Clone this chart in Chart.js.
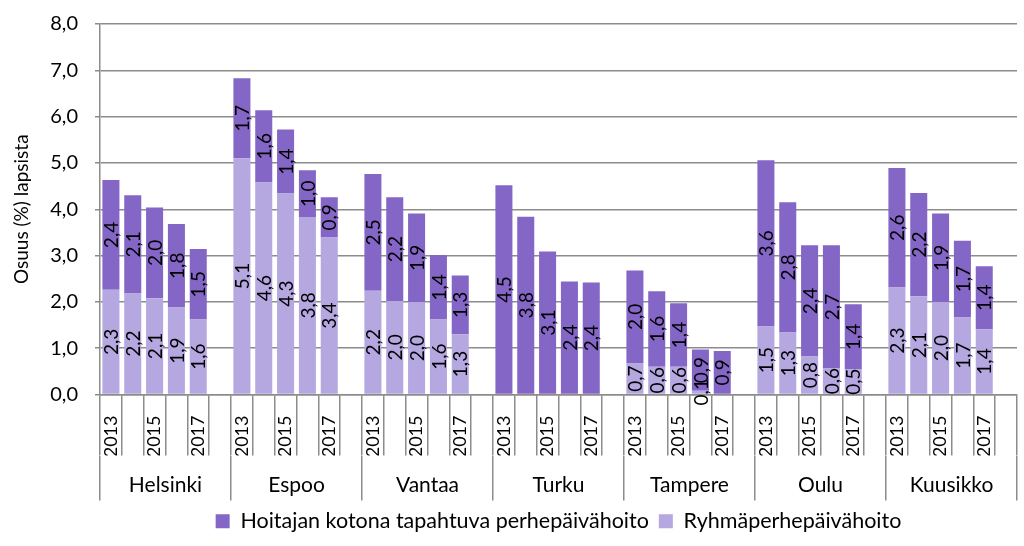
<!DOCTYPE html>
<html><head><meta charset="utf-8">
<script src="https://cdn.jsdelivr.net/npm/chart.js@4.4.1/dist/chart.umd.min.js"></script>
<style>html,body{margin:0;padding:0;background:#fff}#wrap{width:1024px;height:546px;position:relative}</style>
</head><body><div id="wrap"><canvas id="c" width="1024" height="546"></canvas></div>
<script>
const cities = ['Helsinki','Espoo','Vantaa','Turku','Tampere','Oulu','Kuusikko'];
const years = ['2013','2014','2015','2016','2017'];
const shownYears = ['2013','2015','2017'];
const seriesNames = ['Hoitajan kotona tapahtuva perhepäivähoito','Ryhmäperhepäivähoito'];
// Ryhmäperhepäivähoito (light), 5 years per city
const ryhma = [
  2.26,2.18,2.08,1.88,1.62,
  5.10,4.58,4.34,3.83,3.39,
  2.24,2.02,1.99,1.62,1.30,
  0,0,0,0,0,
  0.67,0.60,0.60,0.08,0,
  1.47,1.34,0.82,0.56,0.54,
  2.31,2.12,1.99,1.66,1.41
];
// Hoitajan kotona tapahtuva perhepäivähoito (dark)
const kotona = [
  2.37,2.12,1.96,1.80,1.52,
  1.73,1.56,1.38,1.01,0.87,
  2.52,2.24,1.92,1.39,1.27,
  4.52,3.84,3.09,2.44,2.42,
  2.01,1.63,1.37,0.89,0.94,
  3.59,2.81,2.40,2.66,1.41,
  2.58,2.23,1.92,1.66,1.36
];
const yTicks = [0,1,2,3,4,5,6,7,8];

const FONT = 'Lato';
const FS = 19;
const DARK = '#8466C6';
const LIGHT = '#B5A7E0';
const GRID = '#8c8c8c';

// build slots: 5 years + 1 empty gap per city
const slotLabels = [], lightData = [], darkData = [];
cities.forEach((c, ci) => {
  years.forEach((y, yi) => {
    slotLabels.push(y);
    lightData.push(ryhma[ci*5+yi]);
    darkData.push(kotona[ci*5+yi]);
  });
  slotLabels.push('');
  lightData.push(null);
  darkData.push(null);
});

const fmt = v => v.toFixed(1).replace('.', ',');

const barLabels = {
  id: 'barLabels',
  afterDatasetsDraw(chart) {
    const ctx = chart.ctx;
    ctx.save();
    ctx.font = FS + 'px ' + FONT;
    ctx.fillStyle = '#000';
    ctx.textAlign = 'center';
    ctx.textBaseline = 'middle';
    chart.data.datasets.forEach((ds, di) => {
      const meta = chart.getDatasetMeta(di);
      meta.data.forEach((el, i) => {
        const v = ds.data[i];
        if (v == null || v <= 0) return;
        const cy = (el.y + el.base) / 2;
        ctx.save();
        ctx.translate(el.x, cy);
        ctx.rotate(-Math.PI / 2);
        ctx.fillText(fmt(v), 0, 1);
        ctx.restore();
      });
    });
    ctx.restore();
  }
};

new Chart(document.getElementById('c'), {
  type: 'bar',
  data: {
    labels: slotLabels,
    datasets: [
      { label: seriesNames[1], data: lightData, backgroundColor: LIGHT, order: 1, barPercentage: 0.78, categoryPercentage: 1.0 },
      { label: seriesNames[0], data: darkData, backgroundColor: DARK, order: 2, barPercentage: 0.78, categoryPercentage: 1.0 }
    ]
  },
  options: {
    responsive: false,
    animation: false,
    devicePixelRatio: 1,
    layout: { padding: { left: 0, right: 7, top: 24, bottom: 4 } },
    plugins: {
      tooltip: { enabled: false },
      legend: {
        position: 'bottom',
        fullSize: false,
        reverse: true,
        maxHeight: 46,
        labels: { font: { family: FONT, size: 21.5 }, color: '#000', boxWidth: 14, boxHeight: 14, padding: 10 }
      }
    },
    scales: {
      x: {
        stacked: true,
        offset: true,
        grid: { offset: true, drawOnChartArea: false, drawTicks: true, tickLength: 61, color: GRID, lineWidth: 1.5 },
        border: { display: true, color: GRID, width: 1.5 },
        ticks: {
          autoSkip: false, minRotation: 90, maxRotation: 90, padding: -40,
          font: { family: FONT, size: 18 }, color: '#000',
          callback: function(v, i) { const l = this.getLabelForValue(v); return shownYears.includes(l) ? l : ''; }
        },
        afterFit: s => { s.height = 61; }
      },
      x2: {
        type: 'category',
        position: 'bottom',
        labels: cities,
        offset: true,
        grid: { offset: true, drawOnChartArea: false, drawTicks: true, tickLength: 45, color: GRID, lineWidth: 1.5 },
        border: { display: false },
        ticks: { autoSkip: false, maxRotation: 0, padding: -28, font: { family: FONT, size: 21 }, color: '#000' },
        afterFit: s => { s.height = 45; }
      },
      y: {
        stacked: true,
        min: 0, max: 8,
        afterBuildTicks: s => { s.ticks = yTicks.map(v => ({ value: v })); },
        grid: { color: GRID, lineWidth: 1.5, drawTicks: true, tickLength: 5 },
        border: { display: true, color: GRID, width: 1.5 },
        ticks: { padding: 17, font: { family: FONT, size: 20 }, color: '#000', callback: v => fmt(v) },
        title: { display: true, text: 'Osuus (%) lapsista', font: { family: FONT, size: FS }, color: '#000', padding: { top: 10, bottom: 0 } },
        afterFit: s => { s.width = 100; s.paddingTop = 0; s.paddingBottom = 0; }
      }
    }
  },
  plugins: [barLabels]
});
</script>
</body></html>
